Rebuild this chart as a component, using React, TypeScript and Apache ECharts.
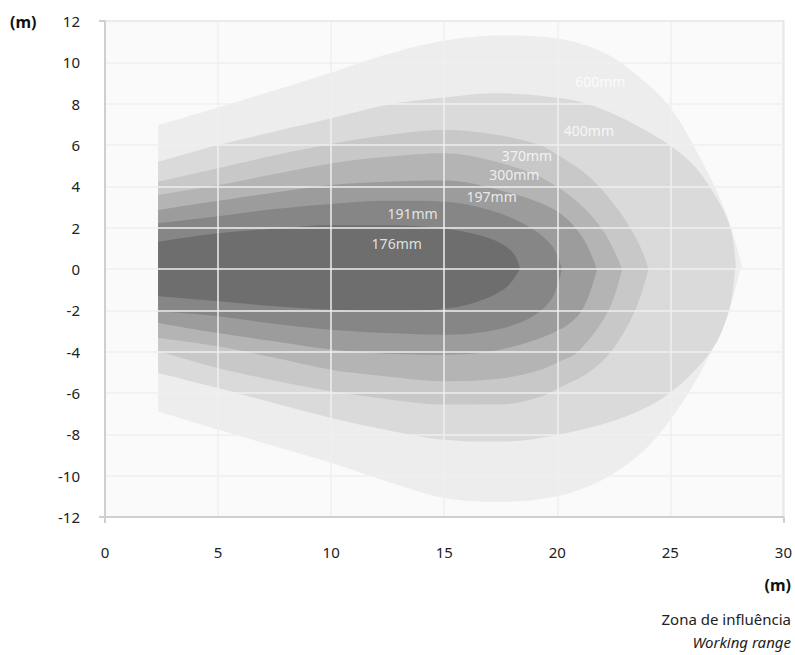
import React, { useEffect, useRef } from "react";
import * as echarts from "echarts";

// ---- axis ticks ----
const xTicks = [0, 5, 10, 15, 20, 25, 30];
const yTicks = [-12, -10, -8, -6, -4, -2, 0, 2, 4, 6, 8, 10, 12];
const xEnds = [0, 30];
const yEnds = [-12, 12];

// ---- zone names & fills (outermost first) ----
const zoneNames = ["600mm", "400mm", "370mm", "300mm", "197mm", "191mm", "176mm"];
const zoneColors = ["#ededed", "#dadada", "#c8c8c8", "#b4b4b4", "#9c9c9c", "#868686", "#6e6e6e"];

// ---- upper / lower boundaries [x (m), y (m)] ----
const upper600 = [[2.35, 6.97], [5, 7.82], [7.5, 8.65], [10, 9.5], [12.5, 10.4], [15, 11.05], [17.5, 11.3], [20, 11.15], [22, 10.5], [23.5, 9.4], [25, 7.8], [26.5, 5.0], [27.5, 2.6], [28.2, 0]];
const lower600 = [[2.35, -6.89], [5, -7.77], [7.5, -8.58], [10, -9.38], [12.5, -10.3], [15, -11.08], [17.5, -11.27], [20, -11.0], [22, -10.2], [23.5, -9.1], [24.5, -8.0], [25.8, -6.0], [26.8, -4.0], [27.6, -2.0], [28.1, 0]];

const upper400 = [[2.35, 5.19], [5, 6.0], [7.5, 6.65], [10, 7.29], [12.5, 7.95], [15, 8.3], [17.4, 8.5], [19.6, 8.34], [21.3, 8.0], [23.6, 6.9], [25.8, 5.27], [27.1, 3.34], [27.7, 1.8], [27.9, 0]];
const lower400 = [[2.35, -5.03], [5, -5.76], [7.5, -6.5], [10, -7.21], [12.5, -7.8], [15, -8.26], [17.5, -8.35], [20, -8.03], [23, -7.15], [25, -5.98], [26.8, -3.97], [27.6, -2.0], [27.86, 0]];

const upper370 = [[2.35, 4.22], [5, 4.87], [7.5, 5.5], [10, 6.05], [12.5, 6.48], [15, 6.72], [17.4, 6.48], [19.2, 6.0], [19.9, 5.6], [21.4, 4.47], [22.7, 2.85], [23.6, 1.24], [24.04, 0]];
const lower370 = [[2.35, -3.98], [5, -4.79], [7.5, -5.4], [10, -5.92], [12.5, -6.3], [15, -6.56], [17.5, -6.55], [19.2, -6.2], [20.1, -5.75], [21.4, -5.0], [22.4, -3.97], [23.45, -1.98], [24.04, 0]];

const upper300 = [[2.35, 3.58], [5, 4.06], [7.5, 4.6], [10, 5.11], [12.5, 5.43], [15, 5.6], [17, 5.27], [19.2, 4.47], [20.95, 3.19], [22.1, 1.73], [22.87, 0]];
const lower300 = [[2.35, -3.34], [5, -3.74], [7.5, -4.3], [10, -4.87], [12.5, -5.2], [15, -5.43], [17.5, -5.3], [19.2, -4.9], [20.1, -4.48], [20.95, -3.97], [22.28, -1.98], [22.87, 0]];

const upper197 = [[2.35, 2.85], [5, 3.3], [7.5, 3.7], [10, 4.06], [12.5, 4.22], [15, 4.28], [17.7, 3.74], [19.9, 2.85], [21.1, 1.56], [21.75, 0]];
const lower197 = [[2.35, -2.61], [5, -3.1], [7.5, -3.5], [10, -3.9], [12.5, -4.1], [15, -4.15], [17.5, -3.9], [20.07, -2.95], [21.1, -1.98], [21.76, 0]];

const upper191 = [[2.35, 2.21], [5, 2.55], [7.5, 2.9], [10, 3.15], [12.5, 3.3], [15, 3.26], [17, 2.85], [18.75, 2.05], [19.8, 1.08], [20.2, 0]];
const lower191 = [[2.35, -2.05], [5, -2.29], [7.5, -2.65], [10, -2.94], [12.5, -3.1], [15, -3.18], [17, -3.0], [18.75, -2.4], [19.77, -1.42], [20.2, 0]];

const upper176 = [[2.35, 1.32], [5, 1.73], [7.5, 1.95], [10, 2.12], [12.5, 2.12], [14.8, 1.98], [16.5, 1.65], [17.5, 1.25], [18.1, 0.7], [18.35, 0]];
const lower176 = [[2.35, -1.32], [5, -1.56], [7.5, -1.8], [10, -1.97], [12.5, -2.05], [14.8, -1.95], [16.25, -1.66], [17.7, -0.93], [18.35, 0]];

const uppers = [upper600, upper400, upper370, upper300, upper197, upper191, upper176];
const lowers = [lower600, lower400, lower370, lower300, lower197, lower191, lower176];

// ---- in-chart label anchors [x, y] ----
const labelX = [21.9, 21.4, 18.66, 18.1, 17.1, 13.6, 12.9];
const labelY = [9.05, 6.72, 5.47, 4.55, 3.5, 2.68, 1.21];

const FONT = "'Noto Sans', 'Open Sans', sans-serif";
const AXIS_GRAY = "#cfcfcf";
const GRID_LINE = "#efefef";

function buildOption() {
  const series: any[] = [];
  zoneNames.forEach((name, i) => {
    [uppers[i], lowers[i]].forEach((pts) => {
      series.push({
        type: "line",
        name,
        data: pts,
        smooth: 0.35,
        symbol: "none",
        showSymbol: false,
        silent: true,
        lineStyle: { width: 0, opacity: 0 },
        areaStyle: { color: zoneColors[i], opacity: 1, origin: 0 },
        z: 2 + i,
      });
    });
  });
  series.push({
    type: "scatter",
    silent: true,
    symbolSize: 1,
    itemStyle: { color: "rgba(0,0,0,0)" },
    z: 30,
    data: zoneNames.map((n, i) => [labelX[i], labelY[i], n]),
    label: {
      show: true,
      position: "inside",
      formatter: (p: any) => p.value[2],
      color: "#ffffff",
      fontSize: 14,
      fontFamily: FONT,
    },
  });

  const xRange = { type: "value", min: xTicks[0], max: xTicks[xTicks.length - 1], interval: 5 };
  const yRange = { type: "value", min: yTicks[0], max: yTicks[yTicks.length - 1], interval: 2 };

  return {
    animation: false,
    backgroundColor: "#ffffff",
    grid: {
      left: 105,
      top: 21,
      right: 11,
      bottom: 138,
      show: true,
      backgroundColor: "#fafafa",
      borderColor: "#d6d6d6",
      borderWidth: 1.5,
    },
    xAxis: [
      {
        ...xRange,
        position: "bottom",
        z: 10,
        axisLine: { show: true, onZero: false, lineStyle: { color: AXIS_GRAY, width: 2 } },
        axisTick: { show: false },
        axisLabel: { color: "#222", fontSize: 15, fontFamily: FONT, margin: 27 },
        splitLine: { show: true, lineStyle: { color: GRID_LINE, width: 1.5 } },
      },
      {
        ...xRange,
        position: "bottom",
        z: 11,
        axisLine: { show: false, onZero: false },
        axisTick: { show: true, customValues: xEnds, length: 6, lineStyle: { color: AXIS_GRAY, width: 2 } },
        axisLabel: { show: false },
        splitLine: { show: false },
      },
    ],
    yAxis: [
      {
        ...yRange,
        position: "left",
        z: 10,
        axisLine: { show: true, onZero: false, lineStyle: { color: AXIS_GRAY, width: 2 } },
        axisTick: { show: false },
        axisLabel: { color: "#222", fontSize: 15, fontFamily: FONT, margin: 25 },
        splitLine: { show: true, lineStyle: { color: GRID_LINE, width: 1.5 } },
      },
      {
        ...yRange,
        position: "left",
        z: 11,
        axisLine: { show: false, onZero: false },
        axisTick: { show: true, customValues: yEnds, length: 6, lineStyle: { color: AXIS_GRAY, width: 2 } },
        axisLabel: { show: false },
        splitLine: { show: false },
      },
    ],
    series,
    graphic: [
      {
        type: "text",
        left: 10,
        top: 14,
        style: { text: "(m)", fontSize: 16, fontWeight: "bold", fill: "#111", fontFamily: FONT },
      },
      {
        type: "text",
        right: 4,
        top: 577,
        style: { text: "(m)", fontSize: 16, fontWeight: "bold", fill: "#111", fontFamily: FONT },
      },
      {
        type: "text",
        right: 4,
        top: 611,
        style: { text: "Zona de influência", fontSize: 15, fill: "#222", fontFamily: FONT },
      },
      {
        type: "text",
        right: 4,
        top: 634,
        style: { text: "Working range", fontSize: 15, fontStyle: "italic", fill: "#222", fontFamily: FONT },
      },
    ],
  };
}

export default function App() {
  const ref = useRef<HTMLDivElement>(null);
  useEffect(() => {
    if (!ref.current) return;
    const chart = echarts.init(ref.current, null, { renderer: "svg" });
    chart.setOption(buildOption() as any);
    return () => chart.dispose();
  }, []);
  return (
    <div
      ref={ref}
      style={{ position: "absolute", left: 0, top: 0, width: 795, height: 655 }}
    />
  );
}
